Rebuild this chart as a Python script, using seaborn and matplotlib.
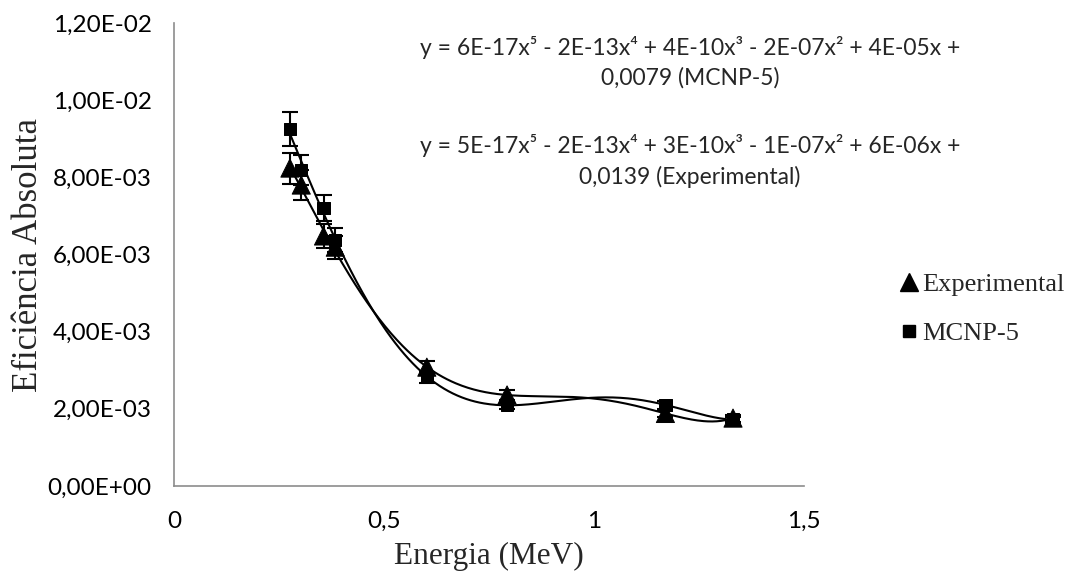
import numpy as np
import pandas as pd
import matplotlib
matplotlib.use("Agg")
import matplotlib.pyplot as plt
import seaborn as sns
from matplotlib.lines import Line2D

# ---- data ----
energy = [0.276, 0.303, 0.356, 0.384, 0.602, 0.793, 1.170, 1.331]
eff_exp = [8.24e-3, 7.80e-3, 6.48e-3, 6.19e-3, 3.08e-3, 2.36e-3, 1.88e-3, 1.76e-3]
err_exp = [0.40e-3, 0.38e-3, 0.32e-3, 0.30e-3, 0.15e-3, 0.12e-3, 0.09e-3, 0.09e-3]
eff_mcnp = [9.25e-3, 8.19e-3, 7.21e-3, 6.38e-3, 2.82e-3, 2.10e-3, 2.10e-3, 1.72e-3]
err_mcnp = [0.44e-3, 0.39e-3, 0.33e-3, 0.31e-3, 0.14e-3, 0.10e-3, 0.10e-3, 0.08e-3]
x_ticks = [0, 0.5, 1, 1.5]
x_tick_labels = ["0", "0,5", "1", "1,5"]
y_ticks = [0, 0.002, 0.004, 0.006, 0.008, 0.010, 0.012]
y_tick_labels = ["0,00E+00", "2,00E-03", "4,00E-03", "6,00E-03", "8,00E-03", "1,00E-02", "1,20E-02"]
eq_mcnp = "y = 6E-17x⁵ - 2E-13x⁴ + 4E-10x³ - 2E-07x² + 4E-05x +\n0,0079 (MCNP-5)"
eq_exp = "y = 5E-17x⁵ - 2E-13x⁴ + 3E-10x³ - 1E-07x² + 6E-06x +\n0,0139 (Experimental)"

sns.set_theme(style="white")
plt.rcParams['font.family'] = ['Lato', 'DejaVu Sans']

fig = plt.figure(figsize=(10.7, 5.8), dpi=100)
ax = fig.add_axes([174/1070, 1 - 486/580, (804-174)/1070, (486-23)/580])

df = pd.DataFrame({"E": energy + energy,
                   "eff": eff_exp + eff_mcnp,
                   "serie": ["Experimental"]*len(energy) + ["MCNP-5"]*len(energy)})

# polynomial trendlines (order 5), like the spreadsheet trendlines
xs = np.linspace(min(energy), max(energy), 300)
fits = []
for name, ys in [("Experimental", eff_exp), ("MCNP-5", eff_mcnp)]:
    c = np.polyfit(energy, ys, 5)
    fits.append(pd.DataFrame({"E": xs, "eff": np.polyval(c, xs), "serie": name}))
fit_df = pd.concat(fits)
sns.lineplot(data=fit_df, x="E", y="eff", units="serie", estimator=None,
             color="black", lw=1.5, ax=ax, legend=False, zorder=3)

ax.errorbar(energy, eff_exp, yerr=err_exp, fmt="none", ecolor="black",
            elinewidth=1.5, capsize=6, capthick=1.5, zorder=2)
ax.errorbar(energy, eff_mcnp, yerr=err_mcnp, fmt="none", ecolor="black",
            elinewidth=1.5, capsize=6, capthick=1.5, zorder=2)

sns.scatterplot(data=df, x="E", y="eff", style="serie",
                markers={"Experimental": "^", "MCNP-5": "s"},
                size="serie", sizes={"Experimental": 170, "MCNP-5": 80},
                color="black", edgecolor="black", ax=ax, legend=False, zorder=4)

ax.set_xlim(0, 1.5)
ax.set_ylim(0, 0.012)
ax.set_xticks(x_ticks)
ax.set_xticklabels(x_tick_labels)
ax.set_yticks(y_ticks)
ax.set_yticklabels(y_tick_labels)
ax.tick_params(axis="both", length=0, labelsize=17.5, colors="black")
ax.tick_params(axis="x", pad=18)
ax.tick_params(axis="y", pad=16)
for s in ["top", "right"]:
    ax.spines[s].set_visible(False)
for s in ["left", "bottom"]:
    ax.spines[s].set_color("#8c8c8c")
    ax.spines[s].set_linewidth(1.2)

ax.set_xlabel("Energia (MeV)", family="Liberation Serif", fontsize=22.5, labelpad=7)
ax.set_ylabel("Eficiência Absoluta", family="Liberation Serif", fontsize=25, labelpad=6)
ax.yaxis.set_label_coords(-0.205, 0.5)

fig.text(690/1070, 1 - 62/580, eq_mcnp, ha="center", va="center", fontsize=16.5,
         linespacing=1.45, family=['Lato', 'DejaVu Sans'])
fig.text(690/1070, 1 - 161/580, eq_exp, ha="center", va="center", fontsize=16.5,
         linespacing=1.45, family=['Lato', 'DejaVu Sans'])

handles = [Line2D([], [], marker="^", ls="none", color="black", markersize=13),
           Line2D([], [], marker="s", ls="none", color="black", markersize=9)]
fig.legend(handles, ["Experimental", "MCNP-5"], loc="center left",
           bbox_to_anchor=(896/1070, 1 - 309/580), frameon=False,
           prop={"family": "Liberation Serif", "size": 19},
           handletextpad=0.0, labelspacing=0.95, handlelength=1.0,
           borderaxespad=0.0, borderpad=0.0)

fig.savefig("out.png", dpi=100)
